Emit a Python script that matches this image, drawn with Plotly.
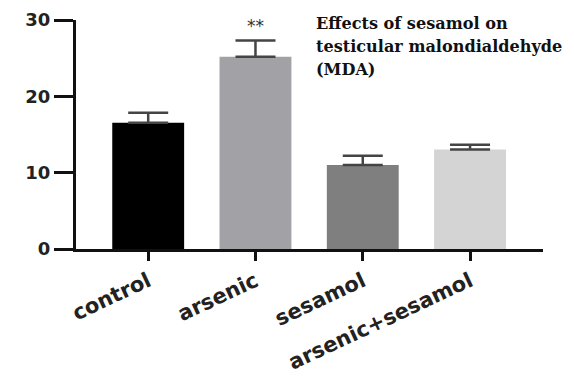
import plotly.graph_objects as go

categories = ["control", "arsenic", "sesamol", "arsenic+sesamol"]
means = [16.55, 25.2, 11.0, 13.05]
errors = [1.3, 2.1, 1.2, 0.6]
bar_colors = ["#000000", "#a2a1a6", "#7f7f7f", "#d4d4d4"]
y_ticks = [0, 10, 20, 30]
title_lines = ["Effects of sesamol on", "testicular malondialdehyde", "(MDA)"]
sig_label = "**"

fig = go.Figure()
fig.add_trace(go.Bar(
    x=categories, y=means,
    marker=dict(color=bar_colors, line=dict(width=0)),
    error_y=dict(type="data", array=errors, symmetric=False, arrayminus=[0]*4,
                 color="#444444", thickness=2.5, width=20),
    showlegend=False,
))

fig.add_annotation(x=categories[1], y=means[1] + errors[1] + 1.9, text=sig_label,
                   showarrow=False, yanchor="middle",
                   font=dict(family="DejaVu Sans", size=17, color="#333333"),
                   xref="x", yref="y")

for i, line in enumerate(title_lines):
    fig.add_annotation(x=0.51, y=1.035 - i * 0.1, xref="paper", yref="paper",
                       xanchor="left", yanchor="top", align="left", showarrow=False,
                       text="<b>" + line + "</b>",
                       font=dict(family="DejaVu Serif", size=16.1, color="#111111"))

fig.update_layout(
    width=574, height=377,
    margin=dict(l=68, r=39, t=12, b=136, autoexpand=False),
    paper_bgcolor="white", plot_bgcolor="white",
    bargap=0.33,
    font=dict(family="DejaVu Sans", color="#111111"),
)
fig.update_xaxes(
    range=[-0.673, 3.68], showline=True, linecolor="#111111", linewidth=3,
    ticks="outside", ticklen=9, tickwidth=3, tickcolor="#111111", automargin=False,
    tickangle=-25, tickfont=dict(family="DejaVu Sans", size=21, color="#222222", weight="bold"),
    showgrid=False, zeroline=False,
)
fig.update_yaxes(
    range=[0, 30], tickvals=y_ticks, showline=True, linecolor="#111111", linewidth=3,
    ticks="outside", ticklen=19, tickwidth=3, tickcolor="#111111", automargin=False,
    tickfont=dict(family="DejaVu Sans", size=18, color="#222222", weight="bold"),
    showgrid=False, zeroline=False,
)

fig.write_html("out.html")
